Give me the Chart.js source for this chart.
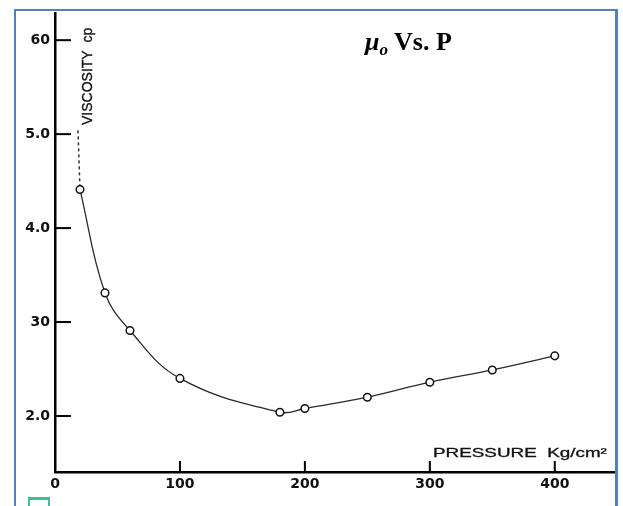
<!DOCTYPE html>
<html>
<head>
<meta charset="utf-8">
<script src="https://cdn.jsdelivr.net/npm/chart.js@4.4.1/dist/chart.umd.min.js"></script>
<style>
    html, body { margin: 0; padding: 0; background: #fff; overflow: hidden; }
    #wrap { position: relative; width: 623px; height: 506px; overflow: hidden; }
    #chart { position: absolute; left: 0; top: 0; }
    #frame {
        position: absolute; left: 14px; top: 9px; width: 604px; height: 540px;
        box-sizing: border-box; border: 2px solid #4f81bd; border-right-width: 3px;
        pointer-events: none;
    }
    #title {
        position: absolute; left: 365px; top: 27px; line-height: 26px;
        font: bold 26px "Liberation Serif", "Times New Roman", serif; color: #000; white-space: nowrap;
    }
    #title i sub { font-size: 17px; vertical-align: -5px; line-height: 0; }
    #ylabel {
        position: absolute; left: 80px; top: 125px; transform-origin: 0 0; transform: rotate(-90deg);
        font: 14px "Liberation Sans", Arial, sans-serif; color: #111; white-space: nowrap; line-height: 14px;
        -webkit-text-stroke: 0.3px #111;
    }
    #xlabel {
        position: absolute; left: 433px; top: 446px; transform-origin: 0 0; transform: scale(1.45, 1);
        font: 13px "Liberation Sans", Arial, sans-serif; color: #111; white-space: nowrap; line-height: 14px;
        -webkit-text-stroke: 0.3px #111;
    }
    #icon {
        position: absolute; left: 28px; top: 497px; width: 22px; height: 12px; box-sizing: border-box;
        border: 2px solid #3dbf9c; border-top-width: 3px;
    }
</style>
</head>
<body>
<div id="wrap">
    <canvas id="chart" width="623" height="506"></canvas>
    <div id="title"><i>μ<sub>o</sub></i> Vs. P</div>
    <div id="ylabel">VISCOSITY&nbsp;&nbsp;cp</div>
    <div id="xlabel">PRESSURE&nbsp;&nbsp;Kg/cm²</div>
    <div id="icon"></div>
    <div id="frame"></div>
</div>
<script>
    // values
    const pressure   = [20, 40, 60, 100, 180, 200, 250, 300, 350, 400];
    const viscosity  = [4.41, 3.31, 2.91, 2.40, 2.04, 2.08, 2.20, 2.36, 2.49, 2.64];
    const dashPressure  = [18.4, 20];
    const dashViscosity = [5.04, 4.41];

    const xTicks      = [0, 100, 200, 300, 400];
    const yTicks      = [2, 3, 4, 5, 6];
    const yTickLabels = ['2.0', '30', '4.0', '5.0', '60'];

    const toPoints = (xs, ys) => xs.map((x, i) => ({ x, y: ys[i] }));

    // tick marks drawn inward from the axes, like the original scan
    const innerTicks = {
        id: 'innerTicks',
        afterDatasetsDraw(chart) {
            const { ctx, chartArea, scales } = chart;
            ctx.save();
            ctx.strokeStyle = '#000';
            ctx.lineWidth = 2;
            yTicks.forEach(v => {
                const y = scales.y.getPixelForValue(v);
                ctx.beginPath();
                ctx.moveTo(chartArea.left, y);
                ctx.lineTo(chartArea.left + 16, y);
                ctx.stroke();
            });
            xTicks.filter(v => v > 0).forEach(v => {
                const x = scales.x.getPixelForValue(v);
                ctx.beginPath();
                ctx.moveTo(x, chartArea.bottom);
                ctx.lineTo(x, chartArea.bottom - 11);
                ctx.stroke();
            });
            ctx.restore();
        }
    };

    const tickFont = { family: '"DejaVu Sans", sans-serif', size: 14, weight: 'bold' };

    new Chart(document.getElementById('chart').getContext('2d'), {
        type: 'line',
        data: {
            datasets: [
                {
                    data: toPoints(pressure, viscosity),
                    borderColor: '#2a2a2a',
                    borderWidth: 1.3,
                    tension: 0.4,
                    pointRadius: 3.8,
                    pointBackgroundColor: '#fff',
                    pointBorderColor: '#111',
                    pointBorderWidth: 1.5,
                    fill: false,
                },
                {
                    data: toPoints(dashPressure, dashViscosity),
                    borderColor: '#333',
                    borderWidth: 1.5,
                    borderDash: [3, 3],
                    pointRadius: 0,
                    fill: false,
                },
            ],
        },
        options: {
            responsive: false,
            animation: false,
            layout: { padding: { top: 10, right: 7, left: 0, bottom: 0 } },
            plugins: {
                legend: { display: false },
                tooltip: { enabled: false },
            },
            scales: {
                x: {
                    type: 'linear',
                    min: 0,
                    max: 449,
                    afterBuildTicks: s => { s.ticks = xTicks.map(value => ({ value })); },
                    afterFit: s => { s.height = 34; },
                    grid: { display: false, drawTicks: false },
                    border: { color: '#000', width: 2.5 },
                    ticks: { color: '#111', font: tickFont, padding: 4, maxRotation: 0 },
                },
                y: {
                    type: 'linear',
                    min: 1.404,
                    max: 6.285,
                    afterBuildTicks: s => { s.ticks = yTicks.map(value => ({ value })); },
                    afterFit: s => { s.width = 55; },
                    grid: { display: false, drawTicks: false },
                    border: { color: '#000', width: 2.5 },
                    ticks: {
                        color: '#111',
                        font: tickFont,
                        padding: 5,
                        callback: v => yTickLabels[yTicks.indexOf(v)],
                    },
                },
            },
        },
        plugins: [innerTicks],
    });
</script>
</body>
</html>
